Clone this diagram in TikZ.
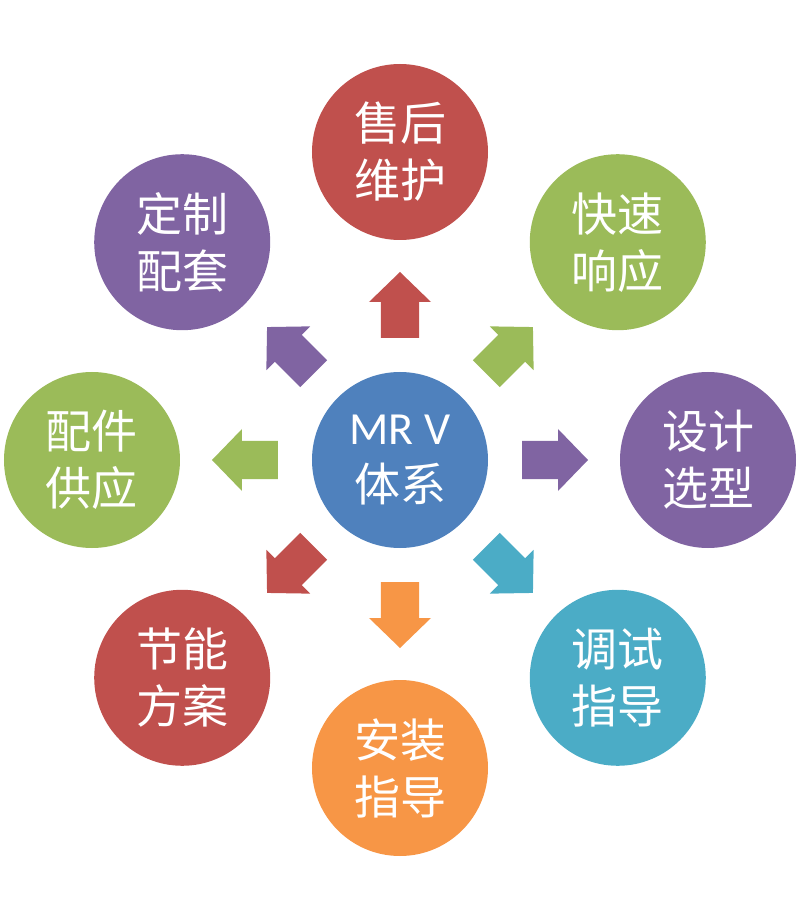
\documentclass[tikz,border=0pt]{standalone}
\usepackage{fontspec}
\newfontfamily\cjk{Noto Sans CJK SC}
\newfontfamily\lat{Carlito}
\usetikzlibrary{calc}
\definecolor{redC}{HTML}{C0504D}
\definecolor{greenC}{HTML}{9BBB59}
\definecolor{purpleC}{HTML}{8064A2}
\definecolor{tealC}{HTML}{4BACC6}
\definecolor{orangeC}{HTML}{F79646}
\definecolor{blueC}{HTML}{4F81BD}

\begin{document}
\begin{tikzpicture}[x=1pt, y=1pt]
    \useasboundingbox (-200,-230.5) rectangle (200,230);
    % round items
    \tikzstyle{ball}=[circle, inner sep=0, minimum size=88pt, text=white, align=center,
        font=\cjk\fontsize{23pt}{28.5pt}\selectfont]
    \node[ball, fill=blueC] (MRV) at (0,0) {{\lat MR V}\\体系};
    \node[ball, fill=redC] (SH) at ($(MRV)+(90:154)$) {售后\\维护};
    \node[ball, fill=greenC] (KS) at ($(MRV)+(45:154)$) {快速\\响应};
    \node[ball, fill=purpleC] (SJ) at ($(MRV)+(0:154)$) {设计\\选型};
    \node[ball, fill=tealC] (TS) at ($(MRV)+(-45:154)$) {调试\\指导};
    \node[ball, fill=orangeC] (AZ) at ($(MRV)+(-90:154)$) {安装\\指导};
    \node[ball, fill=redC] (JN) at ($(MRV)+(-135:154)$) {节能\\方案};
    \node[ball, fill=greenC] (PJ) at ($(MRV)+(180:154)$) {配件\\供应};
    \node[ball, fill=purpleC] (DZ) at ($(MRV)+(135:154)$) {定制\\配套};
    % block arrows from the hub towards each item
    \foreach \ang/\col in {90/redC, 45/greenC, 0/purpleC, -45/tealC,
                           -90/orangeC, -135/redC, 180/greenC, 135/purpleC}
        \fill[\col] ($(MRV)+(\ang:61)+(\ang-90:9.5)$) -- ($(MRV)+(\ang:79)+(\ang-90:9.5)$)
            -- ($(MRV)+(\ang:79)+(\ang-90:15.5)$) -- ($(MRV)+(\ang:94)$)
            -- ($(MRV)+(\ang:79)+(\ang+90:15.5)$) -- ($(MRV)+(\ang:79)+(\ang+90:9.5)$)
            -- ($(MRV)+(\ang:61)+(\ang+90:9.5)$) -- cycle;
\end{tikzpicture}
\end{document}
